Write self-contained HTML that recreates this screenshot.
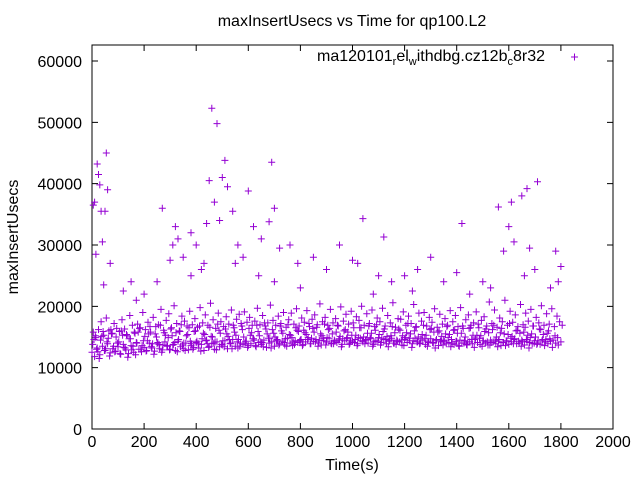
<!DOCTYPE html>
<html><head><meta charset="utf-8"><style>
body{margin:0;background:#fff}
svg text{font-family:"Liberation Sans",sans-serif;font-size:16px;fill:#000}
</style></head><body>
<svg id="chart" width="640" height="480">
<text x="352" y="26" text-anchor="middle">maxInsertUsecs vs Time for qp100.L2</text>
<rect x="92" y="45" width="521" height="384" fill="none" stroke="#000"/>
<g id="axes"></g>
<g id="points"></g>
<text x="352" y="470" text-anchor="middle">Time(s)</text>
<text transform="translate(18,237) rotate(-90)" text-anchor="middle">maxInsertUsecs</text>
<g>
<text x="545" y="61" text-anchor="end">ma120101<tspan font-size="11" dy="4">r</tspan><tspan dy="-4">el</tspan><tspan font-size="11" dy="4">w</tspan><tspan dy="-4">ithdbg.cz12b</tspan><tspan font-size="11" dy="4">c</tspan><tspan dy="-4">8r32</tspan></text>
<path d="M571 57h7M574.5 53.5v7" stroke="#9400d3" stroke-width="1"/>
</g>
</svg>
<script>
const xTicks=[0,200,400,600,800,1000,1200,1400,1600,1800,2000];
const yTicks=[0,10000,20000,30000,40000,50000,60000];
const lowBand=[12.5,11.8,13.2,12.1,13.5,12.8,13.9,12.4,13.1,12.7,13.4,12.2,13.8,12.9,12.3,13.6,12.5,14.1,13.0,12.6,13.3,12.8,14.0,13.2,12.7,13.9,13.1,12.9,14.2,13.5,13.0,13.7,12.8,14.3,13.4,13.1,14.0,12.9,13.6,13.3,14.1,13.2,13.8,12.8,14.5,13.5,13.9,13.0,14.2,13.4,13.7,14.4,13.1,13.9,14.6,13.5,13.2,14.0,13.8,14.3,13.6,13.9,14.7,13.4,14.1,13.8,14.5,13.3,14.0,14.2,13.5,14.6,13.9,14.3,13.7,14.8,14.0,13.6,14.4,14.1,14.5,13.8,14.2,14.9,13.9,14.3,14.6,14.0,13.7,14.4,14.2,14.8,13.9,14.5,14.1,14.7,13.8,14.4,14.9,14.0,14.3,14.6,13.9,14.8,14.2,14.5,14.0,14.7,13.8,14.4,14.9,14.1,14.6,13.9,14.3,14.8,14.0,14.5,14.2,13.7,14.6,14.1,14.4,13.9,14.8,14.2,14.0,14.5,13.8,14.3,14.7,14.0,14.4,13.6,14.2,14.5,13.9,14.1,14.6,13.8,14.3,13.5,14.0,14.4,13.7,14.2,13.9,14.6,14.1,13.8,14.4,14.0,13.7,14.5,14.2,13.9,14.3,13.6,14.1,14.4,13.8,14.2,14.6,13.9,14.0,14.5,13.7,14.3,14.1,13.9,14.4,14.0,13.8,14.6,14.2,13.9,14.3,14.5,14.0,13.7,14.2];
const band2=[13.8,15.2,12.6,14.5,15.9,13.1,14.8,16.2,13.5,15.0,14.2,16.0,13.3,15.4,14.7,12.9,15.8,14.0,16.4,13.6,15.1,14.4,16.7,13.9,15.5,14.1,16.9,13.7,15.3,14.9,16.3,13.8,15.7,14.6,17.0,14.0,15.2,16.5,13.9,15.9,14.3,16.8,14.7,15.4,13.9,16.6,15.0,14.2,17.1,15.6,14.4,16.3,15.1,14.0,16.9,15.3,14.6,17.2,15.0,14.3,16.4,15.7,14.5,16.9,15.2,14.1,17.3,15.5,14.8,16.2,15.0,14.4,16.8,15.6,14.7,17.0,15.3,14.2,16.5,15.9,14.6,16.1,15.4,17.2,14.8,15.8,16.6,14.5,15.2,17.1,14.9,16.4,15.5,14.3,16.9,15.1,14.7,16.2,15.8,14.4,17.3,15.3,14.9,16.5,15.0,14.6,16.8,15.6,14.2,17.0,15.4,14.8,16.3,15.1,14.5,16.7,15.7,14.3,16.1,15.2,14.9,17.2,15.5,14.4,16.6,15.0,14.7,16.9,15.3,14.1,16.4,15.8,14.6,16.0,15.1,14.3,16.7,15.4,14.0,16.2,15.6,14.5,16.8,15.0,14.2,16.5,15.3,14.8,17.1,15.2,14.4,16.3,15.7,14.1,16.9,15.0,14.6,16.4,15.5,14.3,17.2,15.1,14.7,16.1,15.6,14.2,16.6,15.3,14.9,16.8,15.0,14.4,16.2,15.4,14.6,16.0];
const band3=[14.6,13.0,11.5,15.1,12.8,14.2,11.9,15.6,12.6,14.0,12.3,15.3,13.2,11.7,14.7,13.5,12.1,15.8,13.0,14.4,12.7,15.5,13.4,12.2,15.0,13.8,12.5,15.7,13.6,12.9,15.2,14.1,12.6,15.9,13.7,12.8,15.4,14.3,13.0,16.0,13.9,12.7,15.6,14.4,13.3,15.1,14.0,12.9,16.1,13.8,13.4,15.5,14.6,13.1,15.8,14.2,13.5,16.2,14.0,13.3,15.3,14.7,13.6,15.9,14.2,13.4,16.3,14.8,13.2,15.6,14.4,13.7,16.0,14.1,13.5,15.4,14.9,13.8,16.1,14.3,13.6,15.7,14.6,13.9,16.4,14.2,13.5,15.5,14.8,13.7,16.2,14.0,13.9,15.8,14.5,13.4,16.0,14.7,13.8,15.3,14.1,13.6,16.5,14.4,13.9,15.6,14.9,13.5,16.1,14.3,13.7,15.9,14.6,13.4,15.2,14.0,13.8,16.3,14.5,13.6,15.7,14.8,13.3,16.0,14.2,13.9,15.4,14.7,13.5,16.2,14.1,13.2,15.8,14.4,13.7,15.5,14.9,13.4,16.1,14.3,13.6,15.6,14.0,13.8,16.4,14.6,13.3,15.3,14.8,13.5,15.9,14.2,13.7,16.2,14.5,13.4,15.7,14.1,13.6,15.4,14.8,13.9,16.0,14.3,13.5,15.8,14.6,13.2,15.5,14.0,13.8,16.3,14.4,13.6,15.6,14.7,13.3,15.2,14.9];
const midBand=[15.8,14.9,16.2,17.5,15.3,18.1,16.0,15.5,17.2,16.4,15.9,17.8,16.3,15.2,18.5,16.9,15.6,17.1,16.5,19.0,16.2,17.4,15.8,18.2,16.7,17.0,19.5,16.1,17.7,18.8,16.5,20.1,17.2,16.0,18.4,17.6,16.8,19.2,17.0,18.0,16.6,19.8,17.3,18.6,16.9,20.5,17.8,16.4,18.9,17.5,16.7,18.3,17.1,19.4,16.5,17.9,18.7,16.8,19.1,17.4,18.2,16.9,17.6,19.7,17.0,18.5,16.8,17.3,20.2,17.7,16.9,18.4,17.2,19.0,16.6,17.8,18.9,17.1,19.6,16.8,18.1,17.4,19.3,16.7,17.9,18.6,17.0,20.4,17.5,18.2,16.9,19.5,17.3,18.0,16.8,19.9,17.6,18.7,17.1,19.2,16.5,18.3,17.7,20.0,16.9,18.8,17.2,19.4,16.7,18.1,17.5,19.7,16.8,18.5,17.3,20.6,16.6,18.0,17.9,19.1,16.9,18.4,17.2,20.3,16.7,18.9,17.6,19.0,16.8,18.2,17.4,19.6,16.6,18.7,17.1,18.0,16.9,19.3,17.5,18.5,16.7,19.8,16.4,17.8,18.6,16.9,17.3,19.1,16.5,17.7,18.3,16.8,20.7,17.2,19.4,16.6,18.1,17.5,21.0,16.9,19.2,17.4,18.6,16.7,20.3,17.0,18.9,17.6,19.5,16.8,18.2,17.3,20.1,16.9,18.8,17.1,19.6,16.7,18.4,17.5,16.9];
const spikeTimes=[5,10,15,20,25,30,35,40,45,50,55,60,70,120,150,170,200,250,270,300,310,320,330,350,380,380,400,420,430,440,450,460,470,480,490,500,510,520,540,550,560,580,600,620,640,650,680,690,700,700,720,760,790,800,850,900,950,1000,1020,1040,1080,1100,1120,1150,1200,1230,1250,1300,1350,1400,1420,1450,1500,1530,1560,1580,1600,1610,1620,1650,1660,1670,1680,1700,1710,1760,1780,1790,1800];
const spikeValues=[36.5,37,28.5,43.2,41.5,39.8,35.5,30.5,23.5,35.5,45,39,27,22.5,24,21,22,24,36,27.5,30,33,31,28,32,25,30,26,27,33.5,40.5,52.3,37,49.8,34,41,43.8,39.5,35.5,27,30,28,38.8,33,25,31,33.8,43.5,36,24,29.5,30,27,23,28,26,30,27.5,27,34.3,22,25,31.3,24,25,22.5,26,28,24,25.5,33.5,22,24,23,36.2,29,33,37,30.5,38,25,39.2,29.5,26,40.3,23,29,24,26.5];
const X0=92,X1=613,Y0=429,Y1=61;
const xs=t=>X0+t/2000*(X1-X0);
const ys=v=>Y0-v/60000*(Y0-Y1);
const NS="http://www.w3.org/2000/svg";
const axes=document.getElementById('axes'),pts=document.getElementById('points');
xTicks.forEach(t=>{const x=xs(t);
 const l=document.createElementNS(NS,'path');l.setAttribute('d',`M${x} 429v-6M${x} 45v6`);l.setAttribute('stroke','#000');
 
 axes.appendChild(l);
 const tx=document.createElementNS(NS,'text');tx.setAttribute('x',x);tx.setAttribute('y',447);tx.setAttribute('text-anchor','middle');tx.textContent=t;
 
 axes.appendChild(tx);});
yTicks.forEach(v=>{const y=ys(v);
 const l=document.createElementNS(NS,'path');l.setAttribute('d',`M92 ${y}h6M613 ${y}h-6`);l.setAttribute('stroke','#000');
 
 axes.appendChild(l);
 const tx=document.createElementNS(NS,'text');tx.setAttribute('x',82);tx.setAttribute('y',y+6);tx.setAttribute('text-anchor','end');tx.textContent=v;
 
 axes.appendChild(tx);});
let d='';
function plus(t,v){const x=xs(t),y=ys(v);d+=`M${(x-3.5).toFixed(1)} ${y.toFixed(1)}h7M${x.toFixed(1)} ${(y-3.5).toFixed(1)}v7`;}
lowBand.forEach((v,i)=>plus(i*10,v*1000));
band2.forEach((v,i)=>plus(i*10+2.5,v*1000));
band3.forEach((v,i)=>plus(i*10+7.5,v*1000));
midBand.forEach((v,i)=>plus(i*10+5,v*1000));
spikeTimes.forEach((t,i)=>plus(t,spikeValues[i]*1000));
const p=document.createElementNS(NS,'path');p.setAttribute('d',d);p.setAttribute('stroke','#9400d3');p.setAttribute('fill','none');


pts.appendChild(p);
</script>
</body></html>
